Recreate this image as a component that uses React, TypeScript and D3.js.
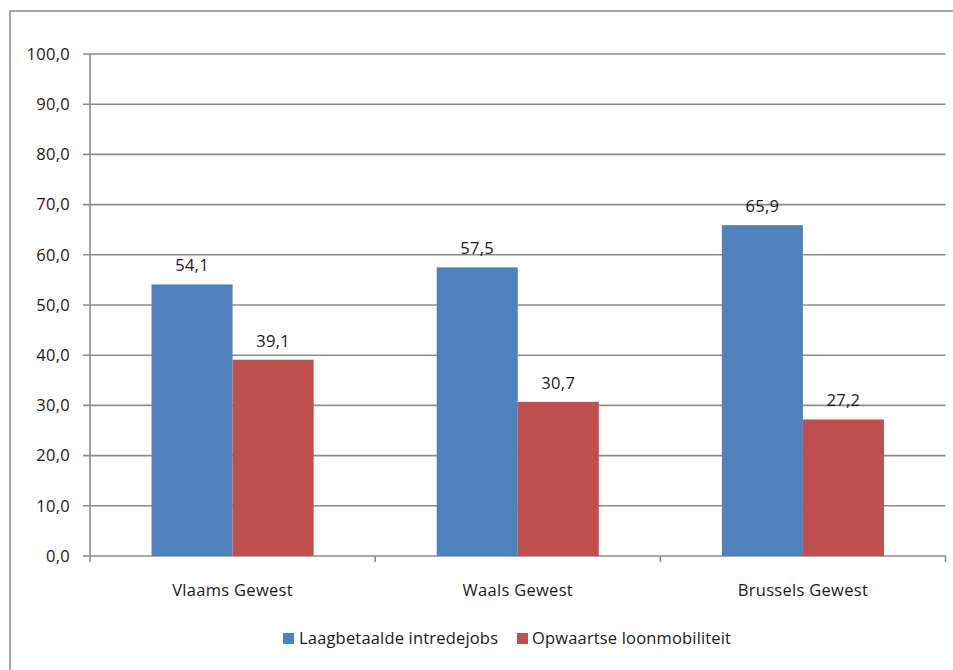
import React from "react";
import * as d3 from "d3";

const categories = ["Vlaams Gewest", "Waals Gewest", "Brussels Gewest"];
const seriesNames = ["Laagbetaalde intredejobs", "Opwaartse loonmobiliteit"];
const laagbetaalde = [54.1, 57.5, 65.9];
const opwaartse = [39.1, 30.7, 27.2];
const yTicks = [0, 10, 20, 30, 40, 50, 60, 70, 80, 90, 100];
const colors = ["#4F81BD", "#C0504D"];

const W = 953;
const H = 670;
const left = 90;
const right = 945.5;
const top = 54;
const bottom = 556;
const font = "'Open Sans', 'Liberation Sans', sans-serif";
const fs = 16.5;
const ls = 0.3;
const fmt = (v: number) => v.toFixed(1).replace(".", ",");

export default function App() {
  const x0 = d3.scaleBand().domain(categories).range([left, right]).paddingInner(0).paddingOuter(0);
  const bw = x0.bandwidth();
  const groupPad = 0.2158;
  const x1 = d3
    .scaleBand()
    .domain(seriesNames)
    .range([bw * groupPad, bw * (1 - groupPad)]);
  const y = d3.scaleLinear().domain([0, 100]).range([bottom, top]);
  const series = [laagbetaalde, opwaartse];
  const grid = "#8c8c8c";
  const textProps = { fontFamily: font, fontSize: fs, fill: "#1a1a1a", letterSpacing: ls };

  return (
    <svg
      width={W}
      height={H}
      style={{ position: "absolute", left: 0, top: 0, display: "block", background: "#fff" }}
    >
      <rect x={10} y={11} width={W} height={H} fill="none" stroke="#8a8a8a" strokeWidth={1.5} />
      {yTicks.map((t) => (
        <g key={t}>
          <line x1={left - 7} x2={right} y1={y(t)} y2={y(t)} stroke={grid} strokeWidth={1.6} />
          <text x={70} y={y(t)} dy="0.35em" textAnchor="end" {...textProps}>
            {fmt(t)}
          </text>
        </g>
      ))}
      <line x1={left} x2={left} y1={top} y2={bottom + 6} stroke={grid} strokeWidth={1.6} />
      {categories.map((c, i) => (
        <line
          key={"tk" + i}
          x1={x0(c)! + bw}
          x2={x0(c)! + bw}
          y1={bottom}
          y2={bottom + 6}
          stroke={grid}
          strokeWidth={1.6}
        />
      ))}
      {categories.map((c, i) => (
        <g key={c} transform={`translate(${x0(c)},0)`}>
          {series.map((s, j) => (
            <g key={j}>
              <rect
                x={x1(seriesNames[j])}
                y={y(s[i])}
                width={x1.bandwidth()}
                height={bottom - y(s[i])}
                fill={colors[j]}
              />
              <text
                x={x1(seriesNames[j])! + x1.bandwidth() / 2}
                y={y(s[i]) - 13}
                textAnchor="middle"
                {...textProps}
              >
                {fmt(s[i])}
              </text>
            </g>
          ))}
          <text x={bw / 2} y={596} textAnchor="middle" {...textProps}>
            {c}
          </text>
        </g>
      ))}
      <g>
        <rect x={283} y={633} width={11} height={11} fill={colors[0]} />
        <text x={299} y={644} {...textProps} letterSpacing={0} textLength={199} lengthAdjust="spacing">
          {seriesNames[0]}
        </text>
        <rect x={517} y={633} width={11} height={11} fill={colors[1]} />
        <text x={532} y={644} {...textProps} letterSpacing={0} textLength={199} lengthAdjust="spacing">
          {seriesNames[1]}
        </text>
      </g>
    </svg>
  );
}
